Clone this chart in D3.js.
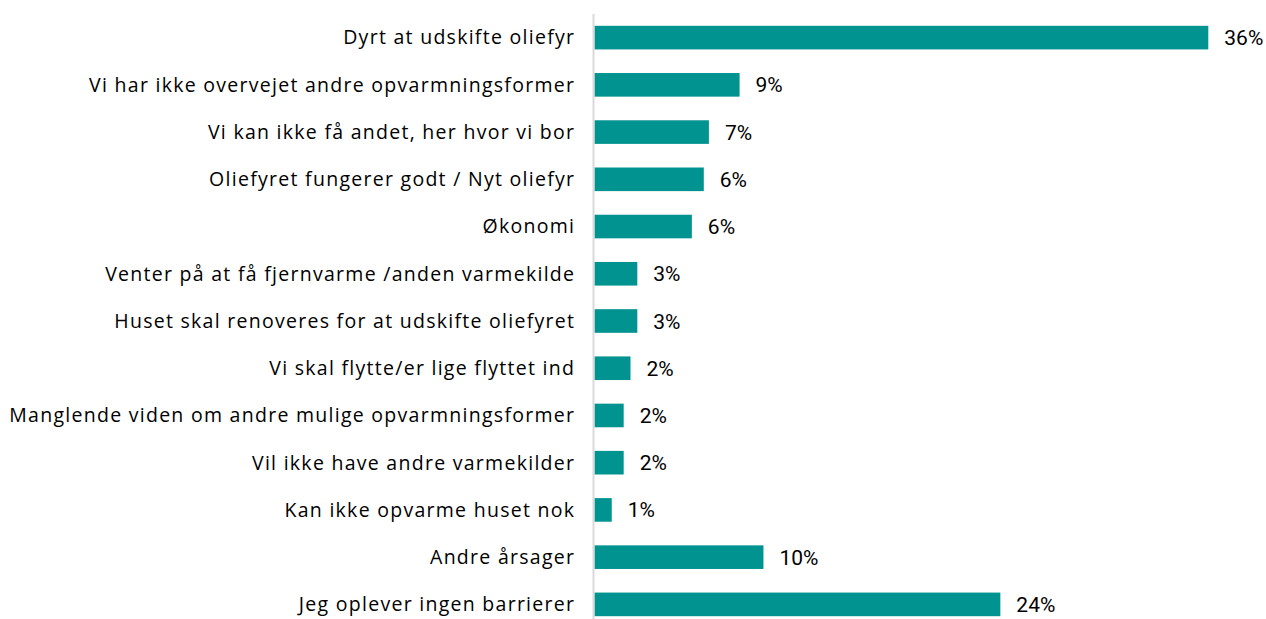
<!DOCTYPE html>
<html><head><meta charset="utf-8">
<script src="https://cdn.jsdelivr.net/npm/d3@7"></script>
<style>body{margin:0;background:#fff}svg{display:block}</style>
</head><body>
<svg id="c" width="1266" height="619"></svg>
<script>
const categories = [
  "Dyrt at udskifte oliefyr",
  "Vi har ikke overvejet andre opvarmningsformer",
  "Vi kan ikke få andet, her hvor vi bor",
  "Oliefyret fungerer godt / Nyt oliefyr",
  "Økonomi",
  "Venter på at få fjernvarme /anden varmekilde",
  "Huset skal renoveres for at udskifte oliefyret",
  "Vi skal flytte/er lige flyttet ind",
  "Manglende viden om andre mulige opvarmningsformer",
  "Vil ikke have andre varmekilder",
  "Kan ikke opvarme huset nok",
  "Andre årsager",
  "Jeg oplever ingen barrierer"
];
const values = [36, 8.5, 6.7, 6.4, 5.7, 2.5, 2.5, 2.1, 1.7, 1.7, 1.0, 9.9, 23.8];

const svg = d3.select("#c");
const x = d3.scaleLinear().domain([0, 36]).range([594.7, 1208.3]);
const y = d3.scaleBand().domain(categories).range([14, 628]).paddingInner(0.5).paddingOuter(0.25);

svg.append("line").attr("x1", 593.5).attr("x2", 593.5).attr("y1", 14).attr("y2", 619)
  .attr("stroke", "#d9d9d9").attr("stroke-width", 2);

svg.selectAll("rect.bar").data(values).join("rect").attr("class", "bar")
  .attr("x", x(0)).attr("y", (d, i) => y(categories[i]))
  .attr("width", d => x(d) - x(0)).attr("height", y.bandwidth())
  .attr("fill", "#00938F");

const cats = svg.selectAll("text.cat").data(categories).join("text").attr("class", "cat")
  .attr("x", 574).attr("y", d => y(d) + y.bandwidth() / 2)
  .attr("dy", "0.35em").attr("text-anchor", "end")
  .attr("font-family", "'Open Sans', sans-serif").attr("font-size", 19.5).attr("fill", "#000")
  .attr("font-weight", 400)
  .text(d => d);

// fit letter-spacing so the longest label spans like the reference (~566px)
const longest = cats.nodes().reduce((a, n) => n.getComputedTextLength() > a.getComputedTextLength() ? n : a);
const len = longest.getComputedTextLength();
const ls = (566 - len) / longest.textContent.length;
cats.attr("letter-spacing", ls).attr("x", 574 + ls);

svg.selectAll("text.val").data(values).join("text").attr("class", "val")
  .attr("x", d => x(d) + 16).attr("y", (d, i) => y(categories[i]) + y.bandwidth() / 2)
  .attr("dy", "0.36em")
  .attr("font-family", "Roboto, sans-serif").attr("font-size", 21).attr("font-weight", 400).attr("fill", "#000")
  .text(d => Math.round(d) + "%");
</script>
</body></html>
